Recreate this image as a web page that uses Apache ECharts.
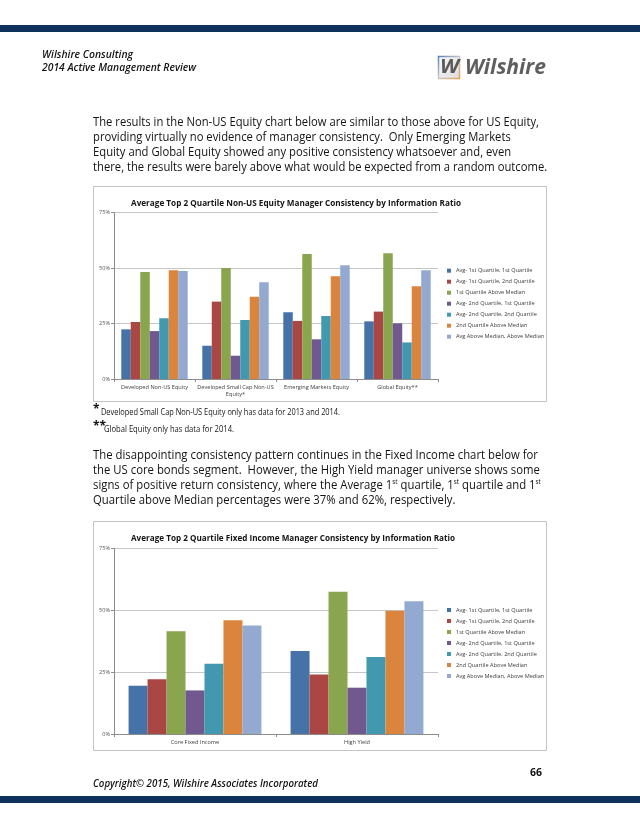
<!DOCTYPE html>
<html><head><meta charset="utf-8">
<script src="https://cdn.jsdelivr.net/npm/echarts@6/dist/echarts.min.js"></script>
<style>html,body{margin:0;padding:0;background:#fff}#c{width:640px;height:828px}</style>
</head><body><div id="c"></div><script>
// ---------- data ----------
const seriesNames = ['Avg- 1st Quartile, 1st Quartile','Avg- 1st Quartile, 2nd Quartile','1st Quartile Above Median','Avg- 2nd Quartile, 1st Quartile','Avg- 2nd Quartile, 2nd Quartile','2nd Quartile Above Median','Avg Above Median, Above Median'];
const seriesColors = ['#4572A7','#AA4643','#89A54E','#71588F','#4198AF','#DB843D','#93A9CF'];
const yTickValues = [0, 25, 50, 75];
const yTickLabels = ['0%', '25%', '50%', '75%'];

const equityCategories = ['Developed Non-US Equity','Developed Small Cap Non-US\nEquity*','Emerging Markets Equity','Global Equity**'];
const equityAvg1st1st   = [22.4, 15.0, 30.1, 26.0];
const equityAvg1st2nd   = [25.7, 34.9, 26.2, 30.4];
const equity1stAboveMed = [48.2, 50.1, 56.4, 56.7];
const equityAvg2nd1st   = [21.6, 10.5, 17.9, 25.1];
const equityAvg2nd2nd   = [27.4, 26.6, 28.4, 16.5];
const equity2ndAboveMed = [49.0, 37.1, 46.3, 41.8];
const equityAboveAbove  = [48.7, 43.6, 51.3, 49.0];

const fixedCategories = ['Core Fixed Income','High Yield'];
const fixedAvg1st1st   = [19.5, 33.5];
const fixedAvg1st2nd   = [22.1, 24.0];
const fixed1stAboveMed = [41.5, 57.5];
const fixedAvg2nd1st   = [17.6, 18.7];
const fixedAvg2nd2nd   = [28.4, 31.1];
const fixed2ndAboveMed = [45.9, 49.8];
const fixedAboveAbove  = [43.8, 53.6];

const equitySeries = [equityAvg1st1st, equityAvg1st2nd, equity1stAboveMed, equityAvg2nd1st, equityAvg2nd2nd, equity2ndAboveMed, equityAboveAbove];
const fixedSeries = [fixedAvg1st1st, fixedAvg1st2nd, fixed1stAboveMed, fixedAvg2nd1st, fixedAvg2nd2nd, fixed2ndAboveMed, fixedAboveAbove];

const title1 = 'Average Top 2 Quartile Non-US Equity Manager Consistency by Information Ratio';
const title2 = 'Average Top 2 Quartile Fixed Income Manager Consistency by Information Ratio';

// ---------- text helpers ----------
const FF = "'Open Sans', 'Noto Sans', sans-serif";
const cv = document.createElement('canvas').getContext('2d');
function mw(text, size, weight, italic) {
  cv.font = (italic ? 'italic ' : '') + (weight || 'normal') + ' ' + size + 'px ' + FF;
  return cv.measureText(text).width;
}
function T(text, x, y, size, o) {
  o = o || {};
  const w = mw(o.measure || text, size, o.weight, o.italic);
  const sx = o.width ? o.width / w : (o.sx || 1);
  const style = {
    text: text, fontFamily: FF, fontSize: size,
    fontWeight: o.weight || 'normal', fontStyle: o.italic ? 'italic' : 'normal',
    fill: o.color || '#141414', align: 'left', verticalAlign: 'middle',
    textAlign: 'left', textVerticalAlign: 'middle'
  };
  if (o.rich) style.rich = o.rich;
  return { type: 'text', x: x, y: y, scaleX: sx, silent: true, style: style };
}

const p1 = ['The results in the Non-US Equity chart below are similar to those above for US Equity,',
  'providing virtually no evidence of manager consistency.  Only Emerging Markets',
  'Equity and Global Equity showed any positive consistency whatsoever and, even',
  'there, the results were barely above what would be expected from a random outcome.'];
const p2 = ['The disappointing consistency pattern continues in the Fixed Income chart below for',
  'the US core bonds segment.  However, the High Yield manager universe shows some',
  'signs of positive return consistency, where the Average 1{s|st} quartile, 1{s|st} quartile and 1{s|st}',
  'Quartile above Median percentages were 37% and 62%, respectively.'];
const PS = 12.5;
const LH = 15.2;
const s1 = 446 / mw(p1[0], PS);
const s2 = 445 / mw(p2[0], PS);
const supRich = { s: { fontFamily: FF, fontSize: 7, verticalAlign: 'top', fill: '#141414' } };

const graphics = [];
graphics.push({ type: 'rect', shape: { x: 0, y: 25, width: 640, height: 7 }, style: { fill: '#0e325c' }, silent: true });
graphics.push({ type: 'rect', shape: { x: 0, y: 796, width: 640, height: 7 }, style: { fill: '#0e325c' }, silent: true });
graphics.push(T('Wilshire Consulting', 42, 55, 10.5, { italic: true, weight: 600, width: 91 }));
graphics.push(T('2014 Active Management Review', 42, 68, 10.5, { italic: true, weight: 600, width: 154 }));
// logo
graphics.push({ type: 'rect', shape: { x: 438.5, y: 56.5, width: 21, height: 22 }, silent: true,
  style: { fill: { type: 'linear', x: 0, y: 0, x2: 1, y2: 1, colorStops: [{ offset: 0, color: '#fafafa' }, { offset: 1, color: '#dcdcdc' }] },
    stroke: { type: 'linear', x: 0, y: 0, x2: 1, y2: 1, colorStops: [{ offset: 0, color: '#4f7fc0' }, { offset: 0.5, color: '#c9c9c9' }, { offset: 1, color: '#e9a14c' }] }, lineWidth: 1.5 } });
graphics.push(T('W', 440, 68, 19, { italic: true, weight: 'bold', color: '#5a5a5a', width: 19 }));
graphics.push(T('Wilshire', 465, 68, 22, { italic: true, weight: 'bold', color: '#5f5f5f', width: 81 }));
// paragraph 1
p1.forEach((l, i) => graphics.push(T(l, 93, 122 + i * LH, PS, { sx: s1 })));
// chart boxes
graphics.push({ type: 'rect', shape: { x: 93.5, y: 186.5, width: 453, height: 215 }, style: { fill: 'none', stroke: '#c4c4c4', lineWidth: 1 }, silent: true });
graphics.push({ type: 'rect', shape: { x: 93.5, y: 521.5, width: 453, height: 229 }, style: { fill: 'none', stroke: '#c4c4c4', lineWidth: 1 }, silent: true });
graphics.push(T(title1, 131, 203, 9.5, { weight: 'bold', width: 330 }));
graphics.push(T(title2, 131, 538, 9.5, { weight: 'bold', width: 324 }));
// footnotes
graphics.push(T('*', 93, 410, 12, { weight: 'bold' }));
graphics.push(T('Developed Small Cap Non-US Equity only has data for 2013 and 2014.', 101, 412, 9.5, { width: 239 }));
graphics.push(T('**', 93, 427, 12, { weight: 'bold' }));
graphics.push(T('Global Equity only has data for 2014.', 104, 429, 9.5, { width: 130 }));
// paragraph 2
p2.forEach((l, i) => graphics.push(T(l, 93, 455 + i * LH, PS, { sx: s2, rich: supRich })));
// footer
graphics.push(T('66', 530, 773, 10.5, { weight: 'bold', width: 12 }));
graphics.push(T('Copyright\u00a9 2015, Wilshire Associates Incorporated', 93, 784, 10.5, { italic: true, weight: 600, width: 225 }));

// ---------- chart ----------
const axisGray = '#8c8c8c';
function xAx(idx, cats) {
  return { gridIndex: idx, type: 'category', data: cats,
    axisLine: { lineStyle: { color: axisGray, width: 1 } },
    axisTick: { show: true, length: 3, lineStyle: { color: axisGray } },
    axisLabel: { fontFamily: FF, fontSize: 5.6, color: '#404040', interval: 0, margin: 5, lineHeight: 7 } };
}
function yAx(idx) {
  return { gridIndex: idx, type: 'value', min: 0, max: 75, interval: 25,
    axisLine: { show: true, lineStyle: { color: axisGray, width: 1 } },
    axisTick: { show: true, length: 3, lineStyle: { color: axisGray } },
    axisLabel: { fontFamily: FF, fontSize: 5.6, color: '#595959', margin: 4,
      formatter: v => yTickLabels[yTickValues.indexOf(v)] },
    splitLine: { lineStyle: { color: '#c6c6c6', width: 1 } } };
}
function leg(top) {
  return { top: top, left: 447, padding: 0, orient: 'vertical', itemWidth: 4, itemHeight: 4, itemGap: 3, icon: 'rect',
    textStyle: { fontFamily: FF, fontSize: 5.6, color: '#404040', lineHeight: 8 }, data: seriesNames, selectedMode: false };
}
const series = [];
equitySeries.forEach((d, i) => series.push({ name: seriesNames[i], type: 'bar', xAxisIndex: 0, yAxisIndex: 0, data: d,
  itemStyle: { color: seriesColors[i] }, barGap: '0%', barCategoryGap: '18%' }));
fixedSeries.forEach((d, i) => series.push({ name: seriesNames[i], type: 'bar', xAxisIndex: 1, yAxisIndex: 1, data: d,
  itemStyle: { color: seriesColors[i] }, barGap: '0%', barCategoryGap: '18%' }));

const chart = echarts.init(document.getElementById('c'), null, { renderer: 'canvas' });
chart.setOption({
  animation: false,
  backgroundColor: '#ffffff',
  grid: [{ left: 114, right: 202, top: 212.7, bottom: 449 }, { left: 114, right: 202, top: 548.3, bottom: 94 }],
  xAxis: [xAx(0, equityCategories), xAx(1, fixedCategories)],
  yAxis: [yAx(0), yAx(1)],
  legend: [leg(266.7), leg(606)],
  series: series,
  graphic: graphics
});
</script></body></html>
